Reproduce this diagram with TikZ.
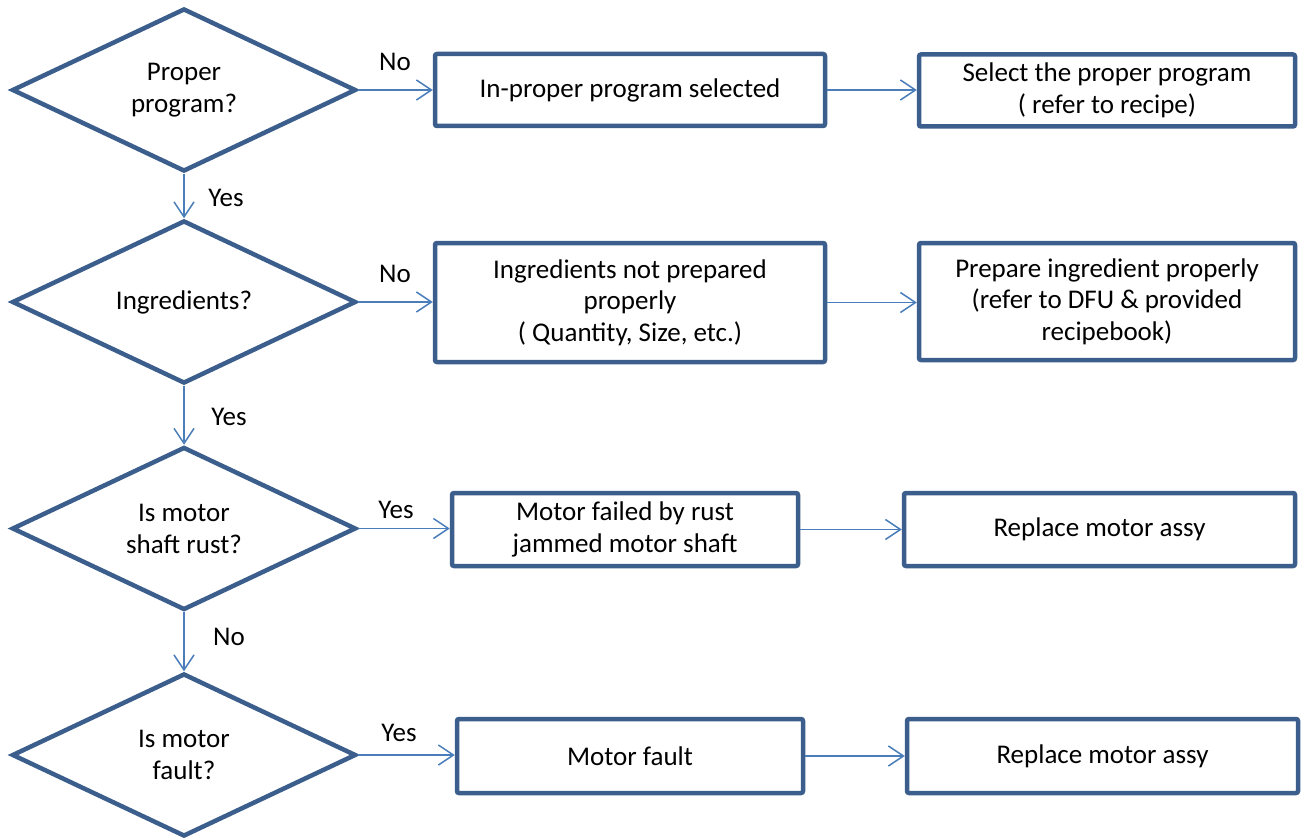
\documentclass[tikz,border=0pt]{standalone}
\usepackage{fontspec}
\setmainfont{Carlito}
\usetikzlibrary{shapes.geometric,arrows.meta}
\definecolor{bord}{HTML}{3B5E8C}
\definecolor{arr}{HTML}{4A7EBB}
\tikzset{
  dec/.style={diamond,draw=bord,line width=4.5pt,minimum width=344pt,minimum height=163pt,inner sep=0pt,aspect=2,align=center,font=\fontsize{27}{32}\selectfont},
  box/.style={rectangle,draw=bord,line width=4.5pt,rounded corners=2pt,inner sep=2pt,align=center,font=\fontsize{27}{31.5}\selectfont},
  con/.style={draw=arr,line width=1.5pt,-{Straight Barb[length=15pt,width=20pt,line width=1.5pt]}},
  lab/.style={font=\fontsize{27}{30}\selectfont}
}
\begin{document}
\begin{tikzpicture}[x=1pt,y=-1pt]
\useasboundingbox (0,0) rectangle (1307,840);
\node[dec] (d1) at (184,90) {Proper\\program?};
\node[dec] (d2) at (184,302) {Ingredients?};
\node[dec] (d3) at (184,528.5) {Is motor\\shaft rust?};
\node[dec] (d4) at (184,755) {Is motor\\fault?};

\node[box,minimum width=390pt,minimum height=72pt] (a1) at (630,90) {In-proper program selected};
\node[box,minimum width=376pt,minimum height=72pt] (b1) at (1107,90.5) {Select the proper program\\( refer to recipe)};
\node[box,minimum width=390pt,minimum height=119pt] (a2) at (630,302.5) {Ingredients not prepared\\properly\\( Quantity, Size, etc.)};
\node[box,minimum width=376pt,minimum height=117pt] (b2) at (1107,301.5) {Prepare ingredient properly\\(refer to DFU \& provided\\recipebook)};
\node[box,minimum width=346pt,minimum height=73pt] (a3) at (625,529.5) {Motor failed by rust\\jammed motor shaft};
\node[box,minimum width=391pt,minimum height=73pt] (b3) at (1099.5,529.5) {Replace motor assy};
\node[box,minimum width=346pt,minimum height=74pt] (a4) at (630,756) {Motor fault};
\node[box,minimum width=391pt,minimum height=74pt] (b4) at (1102.5,756) {Replace motor assy};

\draw[con] (d1.east) -- (a1.west |- d1.east);
\draw[con] (a1.east) -- (b1.west |- a1.east);
\draw[con] (d2.east) -- (a2.west |- d2.east);
\draw[con] (a2.east) -- (b2.west |- a2.east);
\draw[con] (d3.east) -- (a3.west |- d3.east);
\draw[con] (a3.east) -- (b3.west |- a3.east);
\draw[con] (d4.east) -- (a4.west |- d4.east);
\draw[con] (a4.east) -- (b4.west |- a4.east);
\draw[con] (d1.south) -- (d2.north);
\draw[con] (d2.south) -- (d3.north);
\draw[con] (d3.south) -- (d4.north);

\node[lab] (l1) at (395,62) {No};
\node[lab] (l2) at (395,274) {No};
\node[lab] (l3) at (396,510) {Yes};
\node[lab] (l4) at (399,733) {Yes};
\node[lab] (l5) at (226,198) {Yes};
\node[lab] (l6) at (229,417) {Yes};
\node[lab] (l7) at (229,637) {No};
\end{tikzpicture}
\end{document}
